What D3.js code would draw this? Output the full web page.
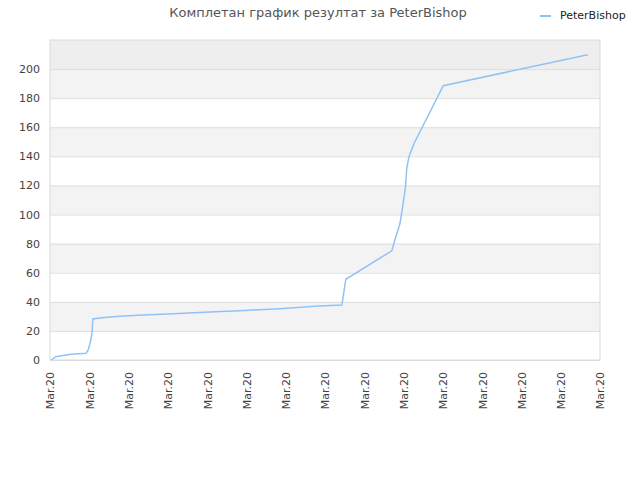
<!DOCTYPE html>
<html>
<head>
<meta charset="utf-8">
<script src="https://cdn.jsdelivr.net/npm/d3@7"></script>
<style>
  body { margin: 0; background: #fff; }
  svg text { font-family: "DejaVu Sans", sans-serif; }
</style>
</head>
<body>
<div id="chart"></div>
<script>
// x in tick units (0..14), all labelled "Mar.20"
const xPos = [0.03, 0.15, 0.53, 0.92, 0.97, 1.02, 1.07, 1.09, 1.32, 1.78, 2.24, 3.13, 4.07, 4.96, 5.85, 6.74, 7.43,
              7.53, 8.70, 8.78, 8.91, 8.99, 9.05, 9.08, 9.14, 9.26, 10.01, 13.69];
const scores = [0, 2.3, 3.9, 4.6, 6.9, 11.5, 18.3, 28.2, 29.1, 30, 30.7, 31.8, 33, 34.1, 35.3, 36.9, 37.8,
                55.5, 75.1, 82.5, 94, 107.7, 119, 131.8, 140, 148.5, 188.6, 209.9];
const xTickLabels = d3.range(15).map(() => "Mar.20");
const yTicks = [0, 20, 40, 60, 80, 100, 120, 140, 160, 180, 200];
const seriesName = "PeterBishop";
const title = "Комплетан график резултат за PeterBishop";

let fullWidth = 640, fullHeight = 480;
let margin = { top: 40, right: 40, bottom: 120, left: 50 };
let width = fullWidth - margin.left - margin.right;
let height = fullHeight - margin.top - margin.bottom;

let root = d3.select("#chart").append("svg")
    .attr("width", fullWidth)
    .attr("height", fullHeight);

let svg = root.append("g")
    .attr("transform", `translate(${margin.left},${margin.top})`);

let x = d3.scaleLinear().domain([0, 14]).range([0, width]);
let y = d3.scaleLinear().domain([0, 220]).range([height, 0]);

// alternating bands
let bands = d3.range(0, 220, 20);
svg.selectAll(".band")
    .data(bands)
    .enter()
    .append("rect")
    .attr("x", 0)
    .attr("width", width)
    .attr("y", d => y(d + 20))
    .attr("height", d => y(d) - y(d + 20))
    .attr("fill", d => d === 200 ? "#eeeeee" : (d / 20) % 2 === 1 ? "#f3f3f3" : "#ffffff");

// grid lines
svg.append("g")
    .call(d3.axisLeft(y).tickValues(yTicks).tickSize(-width).tickFormat(""))
    .call(g => g.select(".domain").remove())
    .selectAll("line")
    .attr("stroke", "#dddddd");

// frame
svg.append("rect")
    .attr("width", width)
    .attr("height", height)
    .attr("fill", "none")
    .attr("stroke", "#d9d9d9");

// y axis labels
svg.append("g")
    .call(d3.axisLeft(y).tickValues(yTicks).tickSize(0).tickPadding(10))
    .call(g => g.select(".domain").remove())
    .selectAll("text")
    .style("font-size", "11px")
    .style("fill", "#444");

// x axis labels
svg.append("g")
    .attr("transform", `translate(0,${height})`)
    .call(d3.axisBottom(x).tickValues(d3.range(15)).tickSize(0).tickFormat(i => xTickLabels[i]))
    .call(g => g.select(".domain").remove())
    .selectAll("text")
    .attr("transform", "rotate(-90)")
    .attr("text-anchor", "end")
    .attr("x", -12)
    .attr("y", 0)
    .attr("dy", "0.35em")
    .style("font-size", "11px")
    .style("fill", "#444");

// line
let line = d3.line()
    .x((d, i) => x(xPos[i]))
    .y(d => y(d));

svg.append("path")
    .datum(scores)
    .attr("fill", "none")
    .attr("stroke", "#90c3f5")
    .attr("stroke-width", 1.5)
    .attr("d", line);

// title
root.append("text")
    .attr("x", 318)
    .attr("y", 17)
    .attr("text-anchor", "middle")
    .style("font-size", "13px")
    .style("fill", "#555")
    .text(title);

// legend
root.append("line")
    .attr("x1", 540).attr("x2", 551)
    .attr("y1", 16).attr("y2", 16)
    .attr("stroke", "#90c3f5")
    .attr("stroke-width", 2);
root.append("text")
    .attr("x", 560)
    .attr("y", 19)
    .style("font-size", "11px")
    .style("fill", "#222")
    .text(seriesName);
</script>
</body>
</html>
